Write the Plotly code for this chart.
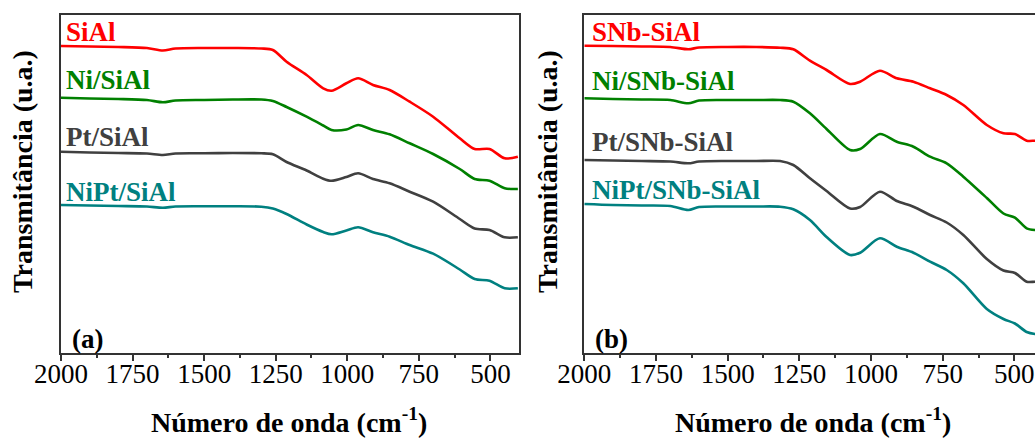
import plotly.graph_objects as go

W, H = 1035, 438

# ---- Data (transmittance in arbitrary units) ----
wn_a = [2000, 1900, 1800, 1700, 1644, 1600, 1500, 1400, 1300, 1260, 1212, 1142, 1084,
        1055, 1003, 962, 910, 852, 782, 700, 607, 555, 503, 450, 404]
siAl = [307, 306.5, 306, 305, 302.5, 304.5, 305, 305, 304.5, 303, 291.3, 278, 264.7,
        262.3, 269.7, 274.7, 268, 263, 251.3, 236.3, 214.7, 204, 204, 194.7, 196.3]
ni_siAl = [255.3, 254.5, 254, 253, 250.7, 252.5, 253, 253.5, 253.5, 252, 246, 236.3, 227.5,
           223, 223.5, 228, 223, 218.7, 209.7, 199, 184, 174, 172.3, 164.7, 164]
pt_siAl = [201.3, 200.5, 200, 199.5, 198, 199.5, 199.7, 200, 199.7, 198.7, 191, 182.5, 174.3,
           172.2, 176, 179.7, 174, 169.7, 161.3, 151.3, 134, 124.5, 123, 115.7, 115.7]
nipt_siAl = [148, 147.5, 147, 146.5, 145.3, 146.5, 146.7, 146.7, 146.3, 144.5, 139, 128.5, 121,
             118.7, 122.5, 125.7, 120.7, 116.3, 108, 99.3, 83.5, 74, 72.3, 64.7, 64.7]

wn_b = [2000, 1900, 1800, 1700, 1637, 1600, 1500, 1400, 1317, 1271, 1213, 1155, 1073,
        1038, 969, 910, 852, 794, 736, 678, 596, 538, 498, 457, 428, 400]
snb = [307.3, 307, 306.5, 306, 303.7, 305.5, 306, 306, 305.3, 303.7, 292.3, 283, 269,
       271.3, 282.3, 274.7, 271.3, 264.7, 258, 248, 228, 219.7, 219, 212.3, 212.3, 212.5]
ni_snb = [254.7, 254, 253.5, 253, 249.7, 252.5, 253, 253, 253, 251.3, 239.7, 224, 203,
          204, 219, 211.3, 206.3, 196.3, 189.7, 176.3, 155, 139.5, 135.3, 124.7, 123, 123]
pt_snb = [193, 192.5, 192, 191.5, 189.7, 191.5, 192, 192, 192, 188, 174.7, 162, 144.5,
          146, 161.3, 152, 146.3, 138, 130.5, 118, 94, 82.5, 80, 71.3, 71.3, 71.3]
nipt_snb = [149, 148, 147.5, 147, 143, 146, 146.5, 146.5, 146.3, 143.7, 133, 116, 98,
            100.3, 114.7, 106.3, 100.3, 91.3, 83, 69.7, 44, 34, 29.5, 21, 19, 19]

labels_a = ["SiAl", "Ni/SiAl", "Pt/SiAl", "NiPt/SiAl"]
labels_b = ["SNb-SiAl", "Ni/SNb-SiAl", "Pt/SNb-SiAl", "NiPt/SNb-SiAl"]
colors = ["#FF0000", "#008000", "#404040", "#008080"]

series_a = [siAl, ni_siAl, pt_siAl, nipt_siAl]
series_b = [snb, ni_snb, pt_snb, nipt_snb]

# ---- Geometry (pixels) ----
ML, MR, MT, MB = 61, 0, 15, 85
PW = W - ML - MR
PH = H - MT - MB


def px(x):
    return (x - ML) / PW


def py(y):
    return (H - MB - y) / PH


FONT = "Liberation Serif"

fig = go.Figure()
for name, ys, c in zip(labels_a, series_a, colors):
    fig.add_trace(go.Scatter(x=wn_a, y=ys, mode="lines", name=name,
                             line=dict(color=c, width=2.6, shape="spline", smoothing=0.8),
                             xaxis="x", yaxis="y", showlegend=False))
for name, ys, c in zip(labels_b, series_b, colors):
    fig.add_trace(go.Scatter(x=wn_b, y=ys, mode="lines", name=name,
                             line=dict(color=c, width=2.6, shape="spline", smoothing=0.8),
                             xaxis="x2", yaxis="y2", showlegend=False))

xcommon = dict(ticks="outside", ticklen=6, tickwidth=1.5, tickcolor="#333",
               showline=True, linecolor="#333", linewidth=2, automargin=False,
               showgrid=False, zeroline=False, tick0=0, dtick=250,
               ticklabelstandoff=-10,
               tickfont=dict(family=FONT, size=27, color="black"),
               minor=dict(ticks="outside", ticklen=3, tickwidth=1.5, tickcolor="#333",
                          dtick=125, showgrid=False))
ycommon = dict(showticklabels=False, ticks="", showline=True, linecolor="#333",
               linewidth=2, showgrid=False, zeroline=False, range=[0, 338],
               automargin=False, domain=[0, 1])

fig.update_layout(
    width=W, height=H,
    margin=dict(l=ML, r=MR, t=MT, b=MB, pad=0, autoexpand=False),
    paper_bgcolor="white", plot_bgcolor="white",
    xaxis=dict(domain=[0, px(519)], range=[2000, 400], mirror=True,
               anchor="y", **xcommon),
    yaxis=dict(mirror=True, anchor="x", **ycommon),
    xaxis2=dict(domain=[px(584.3), 1], range=[2000, 428], mirror=True,
                anchor="y2", **xcommon),
    yaxis2=dict(mirror=False, anchor="x2", **ycommon),
)

ann = []
label_pos_a = [(64, 32), (64, 80), (64, 137), (64, 192)]
label_pos_b = [(590, 32), (590, 81), (590, 142), (590, 190)]
for (x, y), t, c in zip(label_pos_a, labels_a, colors):
    ann.append(dict(x=px(x), y=py(y), xref="paper", yref="paper", text=f"<b>{t}</b>",
                    showarrow=False, xanchor="left", yanchor="middle",
                    font=dict(family=FONT, size=27, color=c)))
for (x, y), t, c in zip(label_pos_b, labels_b, colors):
    ann.append(dict(x=px(x), y=py(y), xref="paper", yref="paper", text=f"<b>{t}</b>",
                    showarrow=False, xanchor="left", yanchor="middle",
                    font=dict(family=FONT, size=27, color=c)))

for x, t in [(70, "(a)"), (593, "(b)")]:
    ann.append(dict(x=px(x), y=py(339), xref="paper", yref="paper", text=f"<b>{t}</b>",
                    showarrow=False, xanchor="left", yanchor="middle",
                    font=dict(family=FONT, size=27, color="black")))

for x in [289, 813]:
    ann.append(dict(x=px(x), y=py(420), xref="paper", yref="paper",
                    text="<b>Número de onda (cm<sup>-1</sup>)</b>",
                    showarrow=False, xanchor="center", yanchor="middle",
                    font=dict(family=FONT, size=28, color="black")))

for x in [22, 547]:
    ann.append(dict(x=px(x), y=py(172), xref="paper", yref="paper",
                    text="<b>Transmitância (u.a.)</b>", textangle=-90,
                    showarrow=False, xanchor="center", yanchor="middle",
                    font=dict(family=FONT, size=28, color="black")))

fig.update_layout(annotations=ann)
fig.write_html("out.html", config={"displayModeBar": False},
               post_script="document.body.style.margin='0';document.body.style.overflow='hidden';")
